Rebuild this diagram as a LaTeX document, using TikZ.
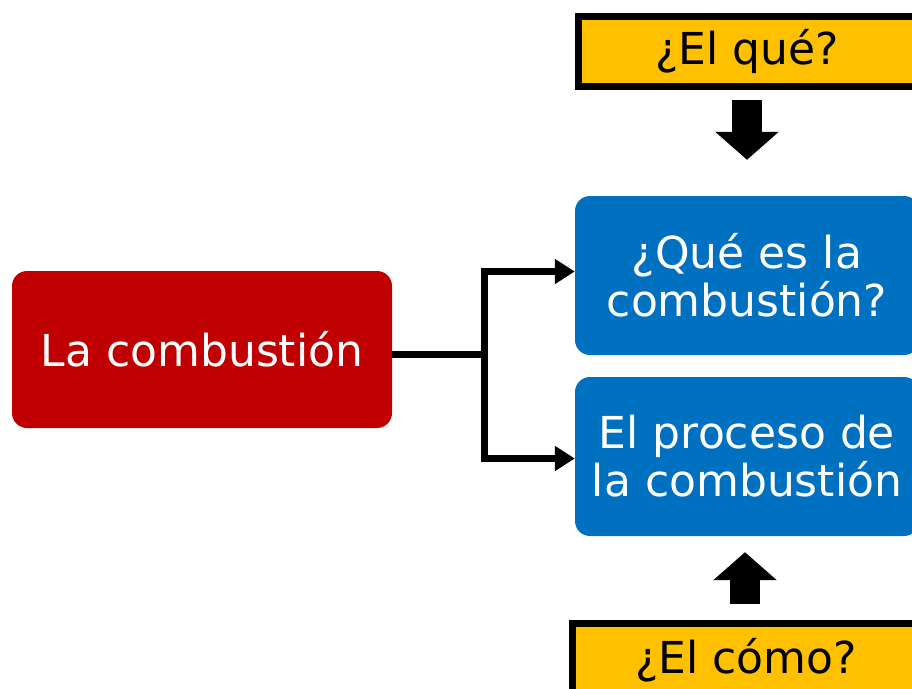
\documentclass[tikz,border=0pt]{standalone}
\usepackage{fontspec}
\setmainfont{DejaVu Sans}
\usetikzlibrary{
  arrows.meta,
  positioning,
}
\definecolor{combred}{HTML}{C00000}
\definecolor{combblue}{HTML}{0070C0}
\definecolor{combyellow}{HTML}{FFC000}
\tikzset{
  box/.style={rectangle, align=center, inner sep=0pt,
    font=\fontsize{44}{48}\selectfont},
  redbox/.style={box, fill=combred, text=white, rounded corners=15pt,
    minimum width=380pt, minimum height=157pt},
  bluebox/.style={box, fill=combblue, text=white, rounded corners=15pt,
    minimum width=344pt, minimum height=159pt},
  question/.style={box, fill=combyellow, draw=black, line width=7pt},
  link/.style={line width=7pt,
    {Triangle[length=20pt,width=24pt]}-{Triangle[length=20pt,width=24pt]}},
  bigarrow/.style={line width=30pt, -{Triangle[length=28pt,width=62pt]}},
}

\begin{document}
\begin{tikzpicture}[x=1pt,y=-1pt]
  \useasboundingbox (0,0) rectangle (912,688);
  \clip (0,0) rectangle (912,688);

  % main topic
  \node[redbox] (comb) at (202,349.5) {La combustión};

  % sub topics
  \node[bluebox] (qes) at (747,275.5) {¿Qué es la\\combustión?};
  \node[bluebox] (proc) at (747,456.5) {El proceso de\\la combustión};

  % questions
  \node[question, minimum width=337pt, minimum height=70pt] (que)
    at (747,51.5) {¿El qué?};
  \node[question, minimum width=347pt, minimum height=74pt] (como)
    at (746,660) {¿El cómo?};

  % fork from main topic
  \coordinate (fork) at (484,354);
  \draw[line width=7pt] (comb.east |- fork) -- (fork);
  \draw[link] ([yshift=4pt]qes.west) -| (fork) |- ([yshift=-2pt]proc.west);

  % block arrows
  \draw[bigarrow, shorten <=10pt, shorten >=36pt] (que.south) -- (qes.north);
  \draw[bigarrow, shorten <=16pt, shorten >=16pt] ([xshift=-1pt]como.north) -- ([xshift=-2pt]proc.south);
\end{tikzpicture}
\end{document}
